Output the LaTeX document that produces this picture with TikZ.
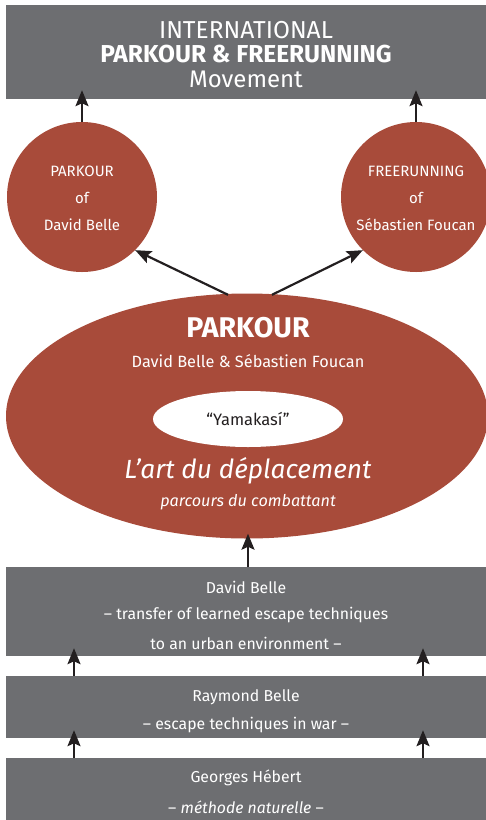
\documentclass[tikz,border=0pt]{standalone}
\usepackage{fontspec}
\setmainfont{Fira Sans}
\usetikzlibrary{shapes.geometric,arrows.meta,calc}
\definecolor{boxgray}{HTML}{6D6E71}
\definecolor{rust}{HTML}{A84B3A}
\definecolor{ink}{HTML}{231F20}
\begin{document}
\begin{tikzpicture}[x=1pt,y=-1pt,
  graybox/.style={rectangle,fill=boxgray,text=white,minimum width=480pt,inner sep=0pt,align=center},
  rcircle/.style={circle,fill=rust,text=white,minimum size=150pt,inner sep=0pt,align=center},
  txt/.style={text=white,inner sep=0pt,font=\fontsize{15.8}{19}\selectfont},
  ctxt/.style={text=white,inner sep=0pt,font=\fontsize{15}{18}\selectfont},
  arr/.style={draw=ink,line width=2.2pt,-{Stealth[length=16pt,width=13pt,inset=3pt]}}]
\useasboundingbox (0,0) rectangle (486,820);
\begin{scope}
\clip (0,0) rectangle (486,820);
\node[graybox,minimum height=94pt] (top) at (246,52) {};
\node[txt,font=\fontsize{24.5}{28}\selectfont] at (246,30) {INTERNATIONAL};
\node[txt,font=\bfseries\fontsize{24.5}{28}\selectfont] at (246,54) {PARKOUR \& FREERUNNING};
\node[txt,font=\fontsize{24}{28}\selectfont] at (246,79) {Movement};

\node[rcircle] (cL) at (82,197) {};
\node[rcircle] (cR) at (416,197) {};
\node[ctxt] at (82,171) {PARKOUR};
\node[ctxt] at (82,198) {of};
\node[ctxt] at (82,225) {David Belle};
\node[ctxt] at (416,171) {FREERUNNING};
\node[ctxt] at (416,198) {of};
\node[ctxt] at (416,225) {Sébastien Foucan};

\node[ellipse,fill=rust,minimum width=482pt,minimum height=245pt,inner sep=0pt] (big) at (247,416) {};
\node[ellipse,fill=white,minimum width=190pt,minimum height=56pt,inner sep=0pt] (yam) at (248,419) {};
\node[txt,font=\bfseries\fontsize{28.5}{32}\selectfont] at (248,328) {PARKOUR};
\node[txt,font=\fontsize{16.3}{19}\selectfont] at (248,361) {David Belle \& Sébastien Foucan};
\node[txt,text=ink,font=\fontsize{16.5}{19}\selectfont] at (248,419) {“Yamakasí”};
\node[txt,font=\itshape\fontsize{26.3}{30}\selectfont] at (248,471) {L’art du déplacement};
\node[txt,font=\itshape\fontsize{16.2}{19}\selectfont] at (248,502) {parcours du combattant};

\node[graybox,minimum height=89pt] (dav) at (246,611.5) {};
\node[txt] at (246,587) {David Belle};
\node[txt] at (246,615) {– transfer of learned escape techniques};
\node[txt] at (246,643) {to an urban environment –};

\node[graybox,minimum height=62pt] (ray) at (246,707) {};
\node[txt] at (246,697) {Raymond Belle};
\node[txt] at (246,725) {– escape techniques in war –};

\node[graybox,minimum height=66pt] (geo) at (246,791) {};
\node[txt] at (246,778) {Georges Hébert};
\node[txt] at (246,807) {– \textit{méthode naturelle} –};
\end{scope}

\draw[arr] (cL.north) -- ($(cL.north |- top.south)+(0,-9)$);
\draw[arr] (cR.north) -- ($(cR.north |- top.south)+(0,-9)$);
\coordinate (bL) at ($(big.north)+(-19,1.5)$);
\coordinate (bR) at ($(big.north)+(25,1.5)$);
\draw[arr] (bL) -- (cL.south east);
\draw[arr] (bR) -- (cR.south west);
\coordinate (dA) at (248,567);
\draw[arr] (dA) -- ($(dA |- big.south)+(0,-5)$);
\coordinate (rL) at (74,676);
\coordinate (rR) at (423,676);
\draw[arr] (rL) -- ($(rL |- dav.south)+(0,-8)$);
\draw[arr] (rR) -- ($(rR |- dav.south)+(0,-8)$);
\coordinate (gL) at (74,758);
\coordinate (gR) at (423,758);
\draw[arr] (gL) -- ($(gL |- ray.south)+(0,-8)$);
\draw[arr] (gR) -- ($(gR |- ray.south)+(0,-8)$);
\end{tikzpicture}
\end{document}
